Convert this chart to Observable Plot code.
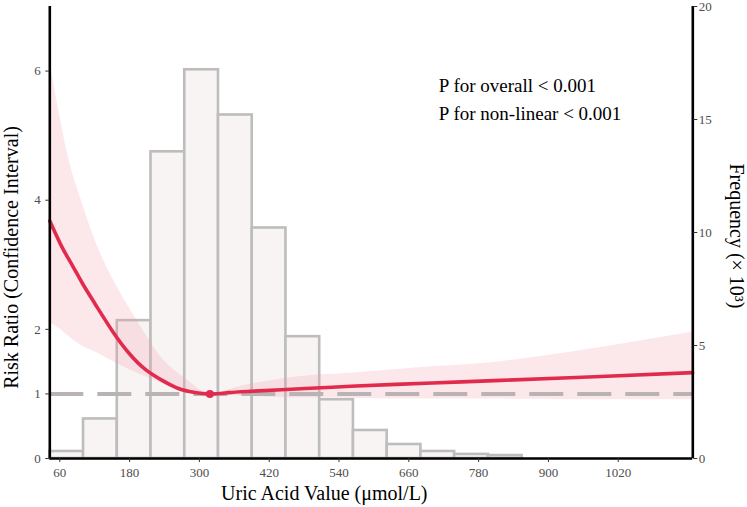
<!DOCTYPE html>
<html>
<head>
<meta charset="utf-8">
<script src="https://cdn.jsdelivr.net/npm/d3@7"></script>
<script src="https://cdn.jsdelivr.net/npm/@observablehq/plot@0.6"></script>
<style>
  html, body { margin: 0; padding: 0; background: #fff; }
  #chart svg { display: block; }
</style>
</head>
<body>
<div id="chart"></div>
<script>
// ---- data ----
const xDomain = [42.8, 1148.2];
const xTicks = [60, 180, 300, 420, 540, 660, 780, 900, 1020];
const rrTicks = [0, 1, 2, 4, 6];
const rrMax = 7;
const freqTicks = [0, 5, 10, 15, 20];
const freqMax = 20;

// histogram (frequency, ×10³)
const binStart = [42.8, 100.8, 158.8, 216.8, 274.8, 332.8, 390.8, 448.8, 506.8, 564.8, 622.8, 680.8, 738.8, 796.8];
const binEnd   = [100.8, 158.8, 216.8, 274.8, 332.8, 390.8, 448.8, 506.8, 564.8, 622.8, 680.8, 738.8, 796.8, 854.8];
const freq     = [0.31, 1.75, 6.1, 13.57, 17.2, 15.2, 10.2, 5.39, 2.6, 1.24, 0.62, 0.31, 0.18, 0.13];

// restricted cubic spline: risk ratio with CI
const ua = [42.8, 64, 81, 99, 121, 150, 179, 207, 236, 265, 290, 318, 350, 388, 474, 560, 700, 818, 990, 1148];
const rr = [3.68, 3.27, 3.0, 2.71, 2.39, 1.98, 1.63, 1.38, 1.21, 1.08, 1.025, 1.00, 1.02, 1.04, 1.08, 1.12, 1.17, 1.21, 1.27, 1.33];
const lo = [2.11, 1.98, 1.85, 1.74, 1.65, 1.51, 1.38, 1.27, 1.16, 1.05, 1.01, 1.00, 0.98, 0.96, 0.94, 0.93, 0.92, 0.92, 0.91, 0.91];
const hi = [6.15, 5.12, 4.45, 3.94, 3.37, 2.80, 2.34, 1.93, 1.55, 1.31, 1.14, 1.00, 1.06, 1.15, 1.27, 1.32, 1.42, 1.50, 1.72, 1.96];

const refPoint = [{x: 318, y: 1}];
const pTexts = ["P for overall < 0.001", "P for non-linear < 0.001"];

// ---- tables built from the arrays ----
const k = rrMax / freqMax; // frequency → risk-ratio axis units
const bars = freq.map((f, i) => ({x1: binStart[i], x2: binEnd[i], f: f * k}));
const curve = ua.map((x, i) => ({x, rr: rr[i], lo: lo[i], hi: hi[i]}));

const red = "#E22B4C";
const serif = "'Liberation Serif', 'Times New Roman', serif";
const tickStyle = {tickSize: 4, fontSize: 13, stroke: "#333", fill: "#4D4D4D", label: null, fontFamily: serif};

const chart = Plot.plot({
  width: 747,
  height: 507,
  marginLeft: 49.3,
  marginRight: 54.7,
  marginTop: 6,
  marginBottom: 49,
  style: {fontFamily: serif, background: "#fff", overflow: "visible"},
  x: {domain: xDomain},
  y: {domain: [0, rrMax]},
  marks: [
    Plot.rectY(bars, {x1: "x1", x2: "x2", y1: 0, y2: "f", fill: "#F8F4F4", stroke: "#BDBDBD", strokeWidth: 2.6}),
    Plot.areaY(curve, {x: "x", y1: "lo", y2: "hi", fill: "#F29AAD", fillOpacity: 0.24, curve: "natural"}),
    Plot.ruleY([1], {stroke: "#BAB3B5", strokeWidth: 4, strokeDasharray: "34,14"}),
    Plot.line(curve, {x: "x", y: "rr", stroke: red, strokeWidth: 3.6, curve: "natural"}),
    Plot.dot(refPoint, {x: "x", y: "y", r: 4, fill: red, stroke: null}),
    // axis lines
    Plot.ruleX([xDomain[0], xDomain[1]], {stroke: "#000", strokeWidth: 2.6}),
    Plot.ruleY([0], {stroke: "#000", strokeWidth: 2.6}),
    // axes
    Plot.axisX({...tickStyle, ticks: xTicks, tickFormat: d => String(d), tickPadding: 5}),
    Plot.axisY({...tickStyle, anchor: "left", ticks: rrTicks, tickFormat: d => String(d), tickPadding: 5}),
    Plot.axisY({...tickStyle, anchor: "right", ticks: freqTicks.map(f => f * k), tickFormat: d => String(Math.round(d / k)), tickPadding: 2}),
    // axis titles
    Plot.text(["Risk Ratio (Confidence Interval)"], {frameAnchor: "left", dx: -38.5, dy: 25, rotate: -90, textAnchor: "middle", lineAnchor: "middle", fontSize: 20, fill: "#000"}),
    Plot.text(["Frequency (× 10³)"], {frameAnchor: "right", dx: 43.5, dy: 3.5, rotate: 90, textAnchor: "middle", lineAnchor: "middle", fontSize: 20, fill: "#000"}),
    Plot.text(["Uric Acid Value (μmol/L)"], {frameAnchor: "bottom", dx: -47, dy: 35, textAnchor: "middle", lineAnchor: "middle", fontSize: 20, fill: "#000"}),
    // annotation
    Plot.text([pTexts[0]], {frameAnchor: "top-left", dx: 389, dy: 79.6, textAnchor: "start", lineAnchor: "middle", fontSize: 19, fill: "#000"}),
    Plot.text([pTexts[1]], {frameAnchor: "top-left", dx: 389, dy: 107.9, textAnchor: "start", lineAnchor: "middle", fontSize: 19, fill: "#000"})
  ]
});

document.getElementById("chart").appendChild(chart);
</script>
</body>
</html>
